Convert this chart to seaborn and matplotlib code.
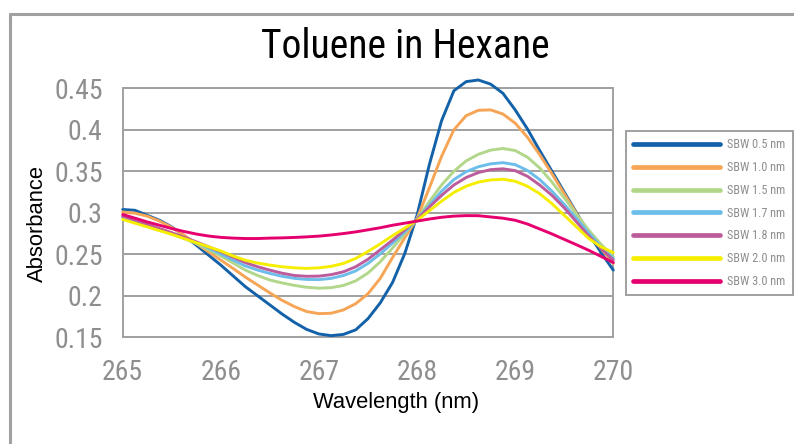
import matplotlib
matplotlib.use("Agg")
import matplotlib.pyplot as plt
from matplotlib import font_manager as fm
from matplotlib.lines import Line2D
import pandas as pd
import seaborn as sns

# ---------------- data ----------------
wavelength = [265.0, 265.125, 265.25, 265.375, 265.5, 265.625, 265.75, 265.875,
              266.0, 266.125, 266.25, 266.375, 266.5, 266.625, 266.75, 266.875,
              267.0, 267.125, 267.25, 267.375, 267.5, 267.625, 267.75, 267.875,
              268.0, 268.125, 268.25, 268.375, 268.5, 268.625, 268.75, 268.875,
              269.0, 269.125, 269.25, 269.375, 269.5, 269.625, 269.75, 269.875, 270.0]

sbw_05 = [0.304, 0.303, 0.297, 0.291, 0.283, 0.2725, 0.261, 0.249,
          0.237, 0.224, 0.211, 0.200, 0.189, 0.178, 0.168, 0.1595,
          0.154, 0.152, 0.1535, 0.159, 0.1725, 0.1915, 0.216, 0.251,
          0.297, 0.358, 0.411, 0.447, 0.458, 0.460, 0.455, 0.444,
          0.424, 0.401, 0.375, 0.350, 0.325, 0.300, 0.275, 0.252, 0.231]
sbw_10 = [0.301, 0.2995, 0.296, 0.290, 0.2824, 0.273, 0.263, 0.253,
          0.243, 0.233, 0.2225, 0.213, 0.2035, 0.1945, 0.187, 0.181,
          0.1785, 0.179, 0.183, 0.1905, 0.2025, 0.221, 0.246, 0.270,
          0.293, 0.330, 0.368, 0.400, 0.417, 0.4235, 0.424, 0.419,
          0.408, 0.391, 0.370, 0.347, 0.323, 0.299, 0.277, 0.257, 0.239]
sbw_15 = [0.2944, 0.2896, 0.2848, 0.280, 0.275, 0.269, 0.263, 0.2555,
          0.248, 0.2395, 0.231, 0.2245, 0.219, 0.2155, 0.2125, 0.2103,
          0.2092, 0.2098, 0.2125, 0.218, 0.2275, 0.241, 0.2575, 0.275,
          0.2926, 0.3135, 0.3335, 0.350, 0.3625, 0.3705, 0.3755, 0.3775,
          0.375, 0.367, 0.354, 0.337, 0.318, 0.298, 0.279, 0.262, 0.247]
sbw_17 = [0.2952, 0.290, 0.285, 0.280, 0.275, 0.270, 0.2644, 0.2575,
          0.2504, 0.243, 0.236, 0.231, 0.227, 0.2235, 0.221, 0.2197,
          0.2195, 0.221, 0.2245, 0.230, 0.239, 0.2505, 0.2635, 0.277,
          0.2922, 0.309, 0.326, 0.340, 0.3495, 0.3555, 0.359, 0.3604,
          0.358, 0.351, 0.340, 0.326, 0.310, 0.293, 0.2755, 0.259, 0.245]
sbw_18 = [0.296, 0.291, 0.286, 0.281, 0.276, 0.2705, 0.265, 0.259,
          0.2532, 0.2465, 0.240, 0.235, 0.2309, 0.2272, 0.2245, 0.2235,
          0.2237, 0.2255, 0.2289, 0.235, 0.244, 0.2555, 0.267, 0.2795,
          0.292, 0.307, 0.321, 0.3335, 0.3425, 0.3485, 0.352, 0.353,
          0.3508, 0.344, 0.3335, 0.321, 0.306, 0.289, 0.272, 0.257, 0.243]
sbw_20 = [0.292, 0.2875, 0.283, 0.2785, 0.274, 0.269, 0.264, 0.259,
          0.254, 0.248, 0.2428, 0.2395, 0.237, 0.235, 0.2337, 0.233,
          0.2337, 0.2355, 0.239, 0.245, 0.2535, 0.2625, 0.2725, 0.2815,
          0.291, 0.3025, 0.314, 0.3245, 0.332, 0.337, 0.3396, 0.3404,
          0.338, 0.332, 0.323, 0.311, 0.297, 0.283, 0.269, 0.259, 0.252]
sbw_30 = [0.298, 0.2935, 0.289, 0.285, 0.281, 0.2775, 0.2744, 0.272,
          0.2704, 0.2695, 0.269, 0.269, 0.2695, 0.2698, 0.2703, 0.271,
          0.2719, 0.2733, 0.275, 0.277, 0.2795, 0.282, 0.285, 0.2875,
          0.290, 0.2925, 0.2946, 0.296, 0.2966, 0.2965, 0.295, 0.2935,
          0.291, 0.2865, 0.2805, 0.2745, 0.268, 0.2615, 0.2548, 0.2475, 0.240]

series_names = ["SBW 0.5 nm", "SBW 1.0 nm", "SBW 1.5 nm", "SBW 1.7 nm",
                "SBW 1.8 nm", "SBW 2.0 nm", "SBW 3.0 nm"]
series_values = [sbw_05, sbw_10, sbw_15, sbw_17, sbw_18, sbw_20, sbw_30]
series_colors = ["#1361A9", "#F6A556", "#B2D78A", "#6CBDEA",
                 "#BC5C9C", "#F6EE00", "#E6006F"]

x_ticks = [265, 266, 267, 268, 269, 270]
y_ticks = [0.15, 0.2, 0.25, 0.3, 0.35, 0.4, 0.45]
y_tick_labels = ["0.15", "0.2", "0.25", "0.3", "0.35", "0.4", "0.45"]

title = "Toluene in Hexane"
x_label = "Wavelength (nm)"
y_label = "Absorbance"

# ---------------- fonts ----------------
def has_font(name):
    try:
        fm.findfont(fm.FontProperties(family=name), fallback_to_default=False)
        return True
    except Exception:
        return False

def first_font(cands):
    for c in cands:
        if has_font(c):
            return c
    return "DejaVu Sans"

narrow = first_font(["Roboto Condensed", "Archivo Narrow", "PT Sans Narrow",
                     "Asap Condensed", "Barlow Condensed", "Arimo"])
regular = first_font(["Liberation Sans", "Arimo", "DejaVu Sans"])

# ---------------- frame ----------------
frames = []
for name, vals in zip(series_names, series_values):
    frames.append(pd.DataFrame({"wavelength": wavelength, "absorbance": vals, "series": name}))
df = pd.concat(frames, ignore_index=True)

sns.set_theme(style="white")
plt.rcParams["font.family"] = [regular, "DejaVu Sans"]

W, H = 794, 444
fig = plt.figure(figsize=(W / 100, H / 100), dpi=100)
fig.patch.set_facecolor("white")

left, right = 122.7 / W, 613.3 / W
top, bottom = 1 - 88.3 / H, 1 - 337.3 / H
ax = fig.add_axes([left, bottom, right - left, top - bottom])

grid_col = "#A0A0A0"
tick_col = "#8E8E8E"

sns.lineplot(data=df, x="wavelength", y="absorbance", hue="series",
             hue_order=series_names, palette=series_colors,
             linewidth=2.1, ax=ax, legend=True)
for ln in ax.get_lines():
    ln.set_clip_on(False)
    ln.set_solid_joinstyle("round")
    ln.set_zorder(3)

ax.set_xlim(265, 270)
ax.set_ylim(0.15, 0.45)
ax.set_xticks(x_ticks)
ax.set_xticklabels([str(t) for t in x_ticks])
ax.set_yticks(y_ticks)
ax.set_yticklabels(y_tick_labels)
ax.yaxis.grid(True, color=grid_col, linewidth=1.4, zorder=0)
ax.xaxis.grid(False)
ax.set_axisbelow(True)
for sp in ax.spines.values():
    sp.set_color(grid_col)
    sp.set_linewidth(1.4)
ax.tick_params(axis="both", which="major", direction="out", length=8.5,
               width=1.2, color=grid_col, labelcolor=tick_col)
ax.tick_params(axis="y", pad=6)
ax.tick_params(axis="x", pad=7)
for lab in ax.get_xticklabels() + ax.get_yticklabels():
    lab.set_fontfamily([narrow, "DejaVu Sans"])
    lab.set_fontsize(20)

ax.set_xlabel("")
ax.set_ylabel("")
fig.text(396 / W, 1 - 402 / H, x_label, ha="center", va="center",
         fontsize=15.8, color="black", family=[regular, "DejaVu Sans"])
fig.text(37 / W, 1 - 224 / H, y_label, ha="center", va="center", rotation=90,
         fontsize=15.8, color="black", family=[regular, "DejaVu Sans"])
fig.text(405 / W, 1 - 46 / H, title, ha="center", va="center",
         fontsize=28.5, color="black", family=[narrow, "DejaVu Sans"])

# legend
handles, labels = ax.get_legend_handles_labels()
for h in handles:
    h.set_linewidth(3.4)
leg = ax.legend(handles, labels, loc="upper left",
                bbox_to_anchor=(626 / W, 1 - 131 / H), bbox_transform=fig.transFigure,
                frameon=True, fancybox=False, framealpha=1,
                prop={"family": [narrow, "DejaVu Sans"], "size": 8.8},
                handlelength=7.1, handletextpad=0.6, labelspacing=0.8,
                borderpad=0.6, borderaxespad=0)
leg.get_frame().set_edgecolor(grid_col)
leg.get_frame().set_linewidth(1.4)
for t in leg.get_texts():
    t.set_color(tick_col)

# outer chart border (left and top edges visible)
fig.add_artist(Line2D([10 / W, 10 / W], [0, 1 - 14 / H], transform=fig.transFigure,
                      color=grid_col, linewidth=2.2))
fig.add_artist(Line2D([10 / W, 1], [1 - 14 / H, 1 - 14 / H], transform=fig.transFigure,
                      color=grid_col, linewidth=2.2))

fig.savefig("out.png", dpi=100)
